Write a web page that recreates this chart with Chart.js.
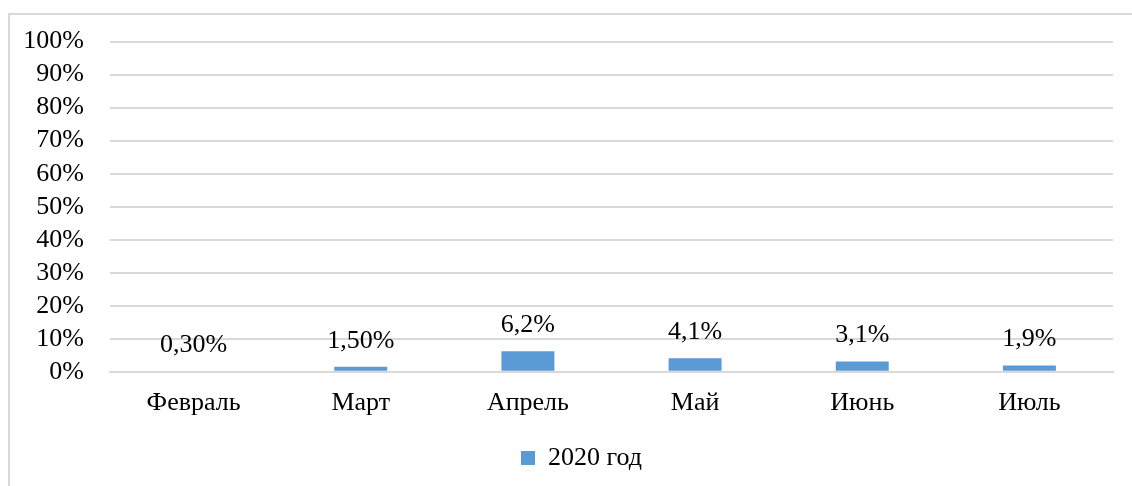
<!DOCTYPE html>
<html>
<head>
<meta charset="utf-8">
<script src="https://cdn.jsdelivr.net/npm/chart.js@4"></script>
<style>
  html, body { margin: 0; padding: 0; background: #fff; overflow: hidden; }
  #frame {
    position: absolute; left: 8px; top: 13px;
    width: 1200px; height: 600px;
    border-top: 2px solid #d9d9d9; border-left: 2px solid #d9d9d9;
  }
  #wrap { position: absolute; left: 0; top: 0; width: 1132px; height: 486px; }
</style>
</head>
<body>
<div id="frame"></div>
<div id="wrap"><canvas id="chart"></canvas></div>
<script>
// Доля по месяцам, 2020 год
const months = ['Февраль', 'Март', 'Апрель', 'Май', 'Июнь', 'Июль'];
const values2020 = [0.3, 1.5, 6.2, 4.1, 3.1, 1.9];
const valueLabels = ['0,30%', '1,50%', '6,2%', '4,1%', '3,1%', '1,9%'];
const seriesName = '2020 год';

const FONT = '"Liberation Serif", "Times New Roman", serif';
const SIZE = 26;

// Подписи значений над столбцами
const barLabels = {
  id: 'barLabels',
  afterDatasetsDraw(chart) {
    const { ctx } = chart;
    const meta = chart.getDatasetMeta(0);
    ctx.save();
    ctx.font = SIZE + 'px ' + FONT;
    ctx.fillStyle = '#000';
    ctx.textAlign = 'center';
    ctx.textBaseline = 'middle';
    meta.data.forEach((bar, i) => {
      ctx.fillText(valueLabels[i], bar.x, bar.y - 26);
    });
    ctx.restore();
  }
};

// Легенда чуть правее центра холста
const legendShift = {
  id: 'legendShift',
  afterLayout(chart) {
    chart.legend.left += 25;
    chart.legend.right += 25;
  }
};

new Chart(document.getElementById('chart'), {
  type: 'bar',
  data: {
    labels: months,
    datasets: [{
      label: seriesName,
      data: values2020,
      backgroundColor: '#5b9bd5',
      borderWidth: 0,
      categoryPercentage: 1,
      barPercentage: 0.317,
    }],
  },
  options: {
    responsive: true,
    maintainAspectRatio: false,
    animation: false,
    layout: { padding: { top: 40, right: 19, bottom: 5, left: 0 } },
    plugins: {
      legend: {
        position: 'bottom',
        labels: {
          boxWidth: 14, boxHeight: 14,
          color: '#000',
          font: { family: FONT, size: SIZE },
        },
      },
      tooltip: { enabled: false },
    },
    scales: {
      x: {
        grid: { display: false, drawTicks: false },
        border: { color: '#d9d9d9', width: 2 },
        ticks: { color: '#000', font: { family: FONT, size: SIZE }, padding: 16 },
      },
      y: {
        min: 0, max: 100,
        afterFit: s => { s.width = 110; },
        grid: { color: '#d9d9d9', lineWidth: 2, drawTicks: false },
        border: { display: false },
        ticks: {
          stepSize: 10,
          autoSkip: false,
          padding: 26,
          color: '#000',
          font: { family: FONT, size: SIZE },
          callback: v => v + '%',
        },
      },
    },
  },
  plugins: [barLabels, legendShift],
});
</script>
</body>
</html>
